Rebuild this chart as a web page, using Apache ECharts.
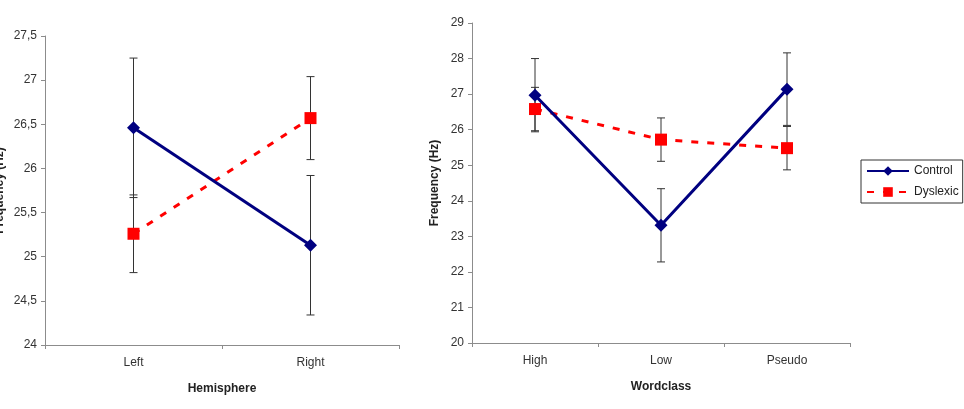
<!DOCTYPE html>
<html><head><meta charset="utf-8">
<script src="https://cdn.jsdelivr.net/npm/echarts@6/dist/echarts.min.js"></script>
<style>html,body{margin:0;padding:0;background:#fff}#c{width:964px;height:409px}</style>
</head><body><div id="c"></div>
<script>
const hemiCats = ['Left', 'Right'];
const hemiControl = [26.46, 25.13];
const hemiControlErr = [0.79, 0.79];
const hemiDyslexic = [25.26, 26.57];
const hemiDyslexicErr = [0.44, 0.47];

const wordCats = ['High', 'Low', 'Pseudo'];
const wordControl = [26.97, 23.31, 27.14];
const wordControlErr = [1.03, 1.03, 1.02];
const wordDyslexic = [26.58, 25.72, 25.48];
const wordDyslexicErr = [0.61, 0.61, 0.61];

const leftTicks = {min: 24, max: 27.5, interval: 0.5};
const rightTicks = {min: 20, max: 29, interval: 1};

const FONT = 'Liberation Sans, Arial, sans-serif';
const NAVY = '#000080', RED = '#ff0000', AX = '#8c8c8c';

function errData(vals, errs) { return vals.map((v, i) => [i, v, errs[i]]); }
function errSeries(xi, vals, errs) {
  return {
    type: 'custom', xAxisIndex: xi, yAxisIndex: xi, z: 1, silent: true,
    data: errData(vals, errs),
    renderItem: function (params, api) {
      const x = api.value(0), v = api.value(1), e = api.value(2);
      const t = api.coord([x, v + e]), b = api.coord([x, v - e]);
      const w = 4, st = {stroke: '#333', lineWidth: 1};
      return {type: 'group', children: [
        {type: 'line', shape: {x1: t[0], y1: t[1], x2: b[0], y2: b[1]}, style: st},
        {type: 'line', shape: {x1: t[0] - w, y1: t[1], x2: t[0] + w, y2: t[1]}, style: st},
        {type: 'line', shape: {x1: b[0] - w, y1: b[1], x2: b[0] + w, y2: b[1]}, style: st}
      ]};
    }
  };
}
function xAx(gi, cats, name, gap) {
  return {
    type: 'category', gridIndex: gi, data: cats, boundaryGap: true,
    name: name, nameLocation: 'middle', nameGap: gap,
    nameTextStyle: {fontFamily: FONT, fontSize: 12, fontWeight: 'bold', color: '#222'},
    axisLine: {lineStyle: {color: AX, width: 1}},
    axisTick: {show: true, length: 4, lineStyle: {color: AX}},
    axisLabel: {fontFamily: FONT, fontSize: 12, color: '#333', margin: 12},
    splitLine: {show: false}
  };
}
function yAx(gi, tk, gap, fmt) {
  return {
    type: 'value', gridIndex: gi, min: tk.min, max: tk.max, interval: tk.interval,
    name: 'Frequency (Hz)', nameLocation: 'middle', nameGap: gap,
    nameTextStyle: {fontFamily: FONT, fontSize: 12, fontWeight: 'bold', color: '#222'},
    axisLine: {show: true, lineStyle: {color: AX, width: 1}},
    axisTick: {show: true, length: 4, lineStyle: {color: AX}},
    axisLabel: {fontFamily: FONT, fontSize: 12, color: '#333', margin: 8, formatter: fmt},
    splitLine: {show: false}
  };
}
const commaFmt = v => String(v).replace('.', ',');

const chart = echarts.init(document.getElementById('c'));
chart.setOption({
  animation: false,
  backgroundColor: '#fff',
  grid: [
    {left: 45, top: 36, width: 354, height: 309, outerBoundsMode: 'none', containLabel: false},
    {left: 472, top: 23, width: 378, height: 320, outerBoundsMode: 'none', containLabel: false}
  ],
  xAxis: [xAx(0, hemiCats, 'Hemisphere', 38), xAx(1, wordCats, 'Wordclass', 38)],
  yAxis: [yAx(0, leftTicks, 39, commaFmt), yAx(1, rightTicks, 31, v => v)],
  legend: {
    orient: 'vertical', left: 861, top: 160,
    itemWidth: 42, itemHeight: 12, itemGap: 9, padding: [5, 4, 5, 5],
    borderColor: '#333', borderWidth: 1,
    textStyle: {fontFamily: FONT, fontSize: 12, color: '#222'},
    data: ['Control', 'Dyslexic']
  },
  series: [
    errSeries(0, hemiControl, hemiControlErr),
    errSeries(0, hemiDyslexic, hemiDyslexicErr),
    errSeries(1, wordControl, wordControlErr),
    errSeries(1, wordDyslexic, wordDyslexicErr),
    {name: 'Control', type: 'line', xAxisIndex: 0, yAxisIndex: 0, data: hemiControl, z: 3,
     symbol: 'diamond', symbolSize: 13, itemStyle: {color: NAVY},
     lineStyle: {color: NAVY, width: 3}},
    {name: 'Dyslexic', type: 'line', xAxisIndex: 0, yAxisIndex: 0, data: hemiDyslexic, z: 2,
     symbol: 'rect', symbolSize: 12, itemStyle: {color: RED},
     lineStyle: {color: RED, width: 3, type: [7, 9]}},
    {name: 'Control', type: 'line', xAxisIndex: 1, yAxisIndex: 1, data: wordControl, z: 3,
     symbol: 'diamond', symbolSize: 13, itemStyle: {color: NAVY},
     lineStyle: {color: NAVY, width: 3}},
    {name: 'Dyslexic', type: 'line', xAxisIndex: 1, yAxisIndex: 1, data: wordDyslexic, z: 2,
     symbol: 'rect', symbolSize: 12, itemStyle: {color: RED},
     lineStyle: {color: RED, width: 3, type: [7, 9]}}
  ]
});
</script></body></html>
